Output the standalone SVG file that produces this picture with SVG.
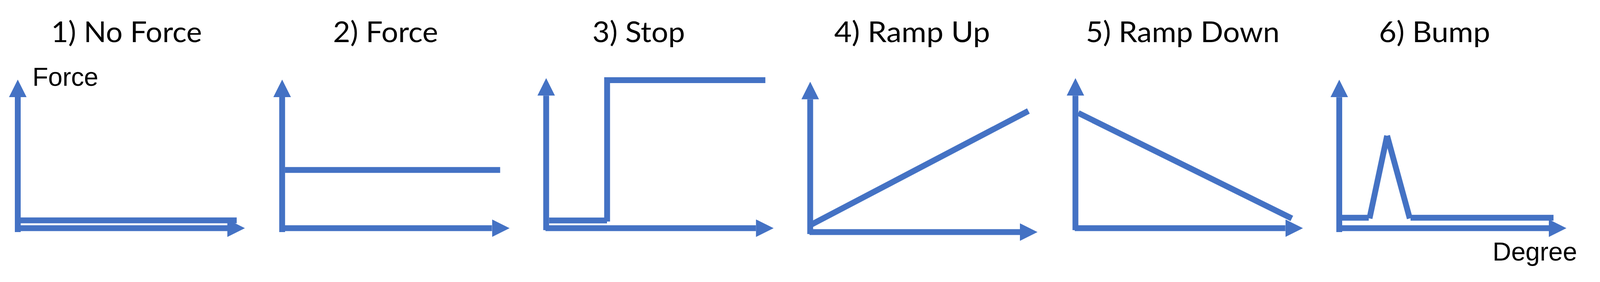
<svg xmlns="http://www.w3.org/2000/svg" width="4145" height="723" viewBox="0 0 4145 723">
  <style>
    .ax { stroke: #4472C4; stroke-width: 15; fill: none; stroke-linecap: butt; marker-end: url(#tri); }
    .sig { stroke: #4472C4; stroke-width: 15; fill: none; stroke-linecap: butt; stroke-linejoin: miter; }
    .title { font-family: "Lato", "Open Sans", sans-serif; font-size: 74px; fill: #000000; text-anchor: middle; }
    .lbl { font-family: "Liberation Sans", Arial, sans-serif; font-size: 66px; fill: #000000; }
  </style>
  <defs>
    <marker id="tri" viewBox="0 0 3 3" refX="0" refY="1.5" markerWidth="3" markerHeight="3" markerUnits="strokeWidth" orient="auto">
      <path d="M0,0 L3,1.5 L0,3 Z" fill="#4472C4"/>
    </marker>
  </defs>
  <rect x="0" y="0" width="4145" height="723" fill="#FFFFFF"/>

  <g id="panel1">
    <text class="title" x="324" y="108" textLength="386" lengthAdjust="spacingAndGlyphs">1) No Force</text>
    <text class="lbl" x="83" y="220">Force</text>
    <line class="ax" x1="45.5" y1="595" x2="45.5" y2="249"/>
    <line class="ax" x1="38" y1="585" x2="582" y2="585"/>
    <line class="sig" x1="53" y1="565" x2="606" y2="565"/>
  </g>

  <g id="panel2">
    <text class="title" x="987" y="108" textLength="269" lengthAdjust="spacingAndGlyphs">2) Force</text>
    <line class="ax" x1="722.3" y1="595" x2="722.3" y2="249"/>
    <line class="ax" x1="715" y1="585" x2="1259.5" y2="585"/>
    <line class="sig" x1="729.5" y1="435.7" x2="1280.4" y2="435.7"/>
  </g>

  <g id="panel3">
    <text class="title" x="1635" y="108" textLength="237" lengthAdjust="spacingAndGlyphs">3) Stop</text>
    <line class="ax" x1="1398.2" y1="590" x2="1398.2" y2="245.3"/>
    <line class="ax" x1="1396.4" y1="585" x2="1935.3" y2="585"/>
    <line class="sig" x1="1405.8" y1="565.3" x2="1554" y2="565.3"/>
    <line class="sig" x1="1554.2" y1="568" x2="1554.2" y2="198"/>
    <line class="sig" x1="1554" y1="205.5" x2="1959.3" y2="205.5"/>
  </g>

  <g id="panel4">
    <text class="title" x="2335" y="108" textLength="399" lengthAdjust="spacingAndGlyphs">4) Ramp Up</text>
    <line class="ax" x1="2074.1" y1="600" x2="2074.1" y2="254.5"/>
    <line class="ax" x1="2072.3" y1="595" x2="2611" y2="595"/>
    <line class="sig" x1="2075.9" y1="576.4" x2="2632.7" y2="284.5"/>
  </g>

  <g id="panel5">
    <text class="title" x="3027.7" y="108" textLength="496" lengthAdjust="spacingAndGlyphs">5) Ramp Down</text>
    <line class="ax" x1="2753.1" y1="590" x2="2753.1" y2="245.3"/>
    <line class="ax" x1="2751.3" y1="585" x2="3290.6" y2="585"/>
    <line class="sig" x1="2760.3" y1="289.6" x2="3307.1" y2="560"/>
  </g>

  <g id="panel6">
    <text class="title" x="3672.5" y="108" textLength="285" lengthAdjust="spacingAndGlyphs">6) Bump</text>
    <text class="lbl" x="3821" y="668">Degree</text>
    <line class="ax" x1="3428.5" y1="595" x2="3428.5" y2="249.3"/>
    <line class="ax" x1="3421" y1="585" x2="3965" y2="585"/>
    <line class="sig" x1="3436" y1="558.3" x2="3504" y2="558.3"/>
    <line class="sig" x1="3506" y1="560" x2="3551" y2="348"/>
    <line class="sig" x1="3551" y1="348" x2="3609" y2="560"/>
    <line class="sig" x1="3611" y1="558.3" x2="3977" y2="558.3"/>
  </g>
</svg>
